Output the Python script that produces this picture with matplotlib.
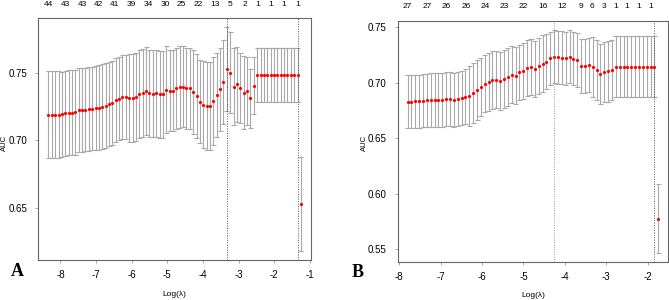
import numpy as np
import matplotlib
matplotlib.use("Agg")
import matplotlib.pyplot as plt

plt.rcParams["font.family"] = ["Liberation Sans", "DejaVu Sans"]

# --- Panel A: cross-validated AUC along the lambda path (left to right = small to large lambda)
loglam_a_range = (-8.336, -1.253)
n_a = 76
auc_a = [0.7191, 0.7191, 0.7191, 0.7191, 0.7194, 0.7199, 0.7206, 0.7206, 0.7208, 0.7223,
         0.7225, 0.7228, 0.7230, 0.7235, 0.7240, 0.7243, 0.7250, 0.7255, 0.7267, 0.7277,
         0.7297, 0.7309, 0.7319, 0.7319, 0.7314, 0.7316, 0.7319, 0.7346, 0.7348, 0.7363,
         0.7348, 0.7346, 0.7348, 0.7341, 0.7341, 0.7375, 0.7368, 0.7368, 0.7385, 0.7395,
         0.7397, 0.7385, 0.7385, 0.7360, 0.7328, 0.7287, 0.7265, 0.7252, 0.7257, 0.7289,
         0.7338, 0.7377, 0.7431, 0.7529, 0.7502, 0.7397, 0.7414, 0.7387, 0.7353, 0.7365,
         0.7311, 0.7404, 0.7485, 0.7485, 0.7485, 0.7485, 0.7485, 0.7485, 0.7485, 0.7485,
         0.7485, 0.7485, 0.7485, 0.7485, 0.7485, 0.6529]
se_a = [0.0320, 0.0320, 0.0320, 0.0320, 0.0315, 0.0315, 0.0315, 0.0315, 0.0315, 0.0310,
        0.0310, 0.0310, 0.0310, 0.0310, 0.0310, 0.0315, 0.0315, 0.0315, 0.0310, 0.0310,
        0.0310, 0.0310, 0.0310, 0.0310, 0.0325, 0.0325, 0.0325, 0.0325, 0.0325, 0.0325,
        0.0320, 0.0320, 0.0320, 0.0320, 0.0320, 0.0320, 0.0300, 0.0300, 0.0300, 0.0300,
        0.0300, 0.0300, 0.0300, 0.0310, 0.0310, 0.0310, 0.0325, 0.0325, 0.0325, 0.0325,
        0.0310, 0.0310, 0.0310, 0.0310, 0.0300, 0.0285, 0.0280, 0.0260, 0.0270, 0.0250,
        0.0220, 0.0210, 0.0198, 0.0198, 0.0198, 0.0198, 0.0198, 0.0198, 0.0198, 0.0198,
        0.0198, 0.0198, 0.0198, 0.0198, 0.0198, 0.0348]
top_pos_a = [-8.336, -7.851, -7.384, -6.926, -6.488, -6.021, -5.536, -5.069, -4.602,
             -4.126, -3.669, -3.230, -2.829, -2.465, -2.101, -1.737, -1.354]
top_lab_a = ["44", "43", "43", "42", "41", "39", "34", "30", "25", "22", "13",
             "5", "2", "1", "1", "1", "1"]

# --- Panel B
loglam_b_range = (-7.799, -1.744)
n_b = 66
auc_b = [0.6831, 0.6831, 0.6834, 0.6837, 0.6840, 0.6846, 0.6849, 0.6849, 0.6849, 0.6846,
         0.6855, 0.6855, 0.6849, 0.6852, 0.6864, 0.6877, 0.6883, 0.6907, 0.6934, 0.6964,
         0.6994, 0.7009, 0.7024, 0.7030, 0.7018, 0.7036, 0.7051, 0.7075, 0.7066, 0.7096,
         0.7108, 0.7136, 0.7142, 0.7127, 0.7154, 0.7175, 0.7193, 0.7223, 0.7238, 0.7232,
         0.7229, 0.7223, 0.7235, 0.7220, 0.7208, 0.7151, 0.7151, 0.7160, 0.7142, 0.7120,
         0.7084, 0.7099, 0.7105, 0.7117, 0.7145, 0.7145, 0.7145, 0.7145, 0.7145, 0.7145,
         0.7145, 0.7145, 0.7145, 0.7145, 0.7145, 0.5776]
se_b = [0.0239, 0.0239, 0.0239, 0.0239, 0.0239, 0.0239, 0.0244, 0.0244, 0.0244, 0.0244,
        0.0244, 0.0244, 0.0244, 0.0244, 0.0244, 0.0250, 0.0268, 0.0270, 0.0270, 0.0260,
        0.0260, 0.0260, 0.0260, 0.0260, 0.0260, 0.0260, 0.0260, 0.0260, 0.0260, 0.0250,
        0.0250, 0.0255, 0.0255, 0.0255, 0.0255, 0.0255, 0.0244, 0.0240, 0.0240, 0.0240,
        0.0240, 0.0240, 0.0240, 0.0240, 0.0244, 0.0244, 0.0244, 0.0244, 0.0270, 0.0270,
        0.0270, 0.0274, 0.0274, 0.0274, 0.0276, 0.0276, 0.0276, 0.0276, 0.0276, 0.0276,
        0.0276, 0.0276, 0.0276, 0.0276, 0.0276, 0.0310]
top_pos_b = [-7.799, -7.332, -6.864, -6.389, -5.922, -5.455, -4.996, -4.537, -4.070,
             -3.611, -3.353, -3.047, -2.773, -2.499, -2.210, -1.936]
top_lab_b = ["27", "27", "26", "26", "24", "23", "22", "16", "12", "9", "6", "3",
             "1", "1", "1", "1"]


def cv_panel(ax, lam_range, n, auc, se, top_pos, top_lab, xticks, yticks,
             min_line_color="#555555"):
    # glmnet lambda path is evenly spaced on the log scale
    x = np.linspace(lam_range[0], lam_range[1], n)
    auc = np.asarray(auc)
    se = np.asarray(se)
    up, lo = auc + se, auc - se

    # error bars the way glmnet draws them (width = 0.01 of the x range)
    barw = 0.01 * (x.max() - x.min())
    bar_kw = dict(color="#a9a9a9", lw=0.8)
    ax.vlines(x, lo, up, **bar_kw)
    ax.hlines(up, x - barw, x + barw, **bar_kw)
    ax.hlines(lo, x - barw, x + barw, **bar_kw)
    ax.plot(x, auc, "o", color="red", ms=2.3, mec="none")

    # lambda.min and lambda.1se
    i_min = int(np.argmax(auc))
    ok = np.where(auc >= auc[i_min] - se[i_min])[0]
    i_1se = ok.max()
    ax.axvline(x[i_min], color=min_line_color, ls=(0, (1, 1.5)), lw=0.7)
    ax.axvline(x[i_1se], color="#555555", ls=(0, (1, 1.5)), lw=0.7)

    # R-like 4% padding
    xr = x.max() - x.min()
    ax.set_xlim(x.min() - 0.04 * xr, x.max() + 0.04 * xr)
    yr = up.max() - lo.min()
    ax.set_ylim(lo.min() - 0.04 * yr, up.max() + 0.04 * yr)

    ax.set_xticks(xticks)
    ax.set_xticklabels([str(t) for t in xticks])
    ax.set_yticks(yticks)
    ax.set_yticklabels(["%.2f" % t for t in yticks])
    ax.tick_params(direction="out", length=2.5, width=0.6, color="#999999",
                   labelsize=7)
    ax.tick_params(axis="x", pad=5)
    ax.tick_params(axis="y", pad=5.5)
    for s in ax.spines.values():
        s.set_color("#666666")
        s.set_linewidth(0.8)

    for p, t in zip(top_pos, top_lab):
        ax.annotate(t, xy=(p, 1.0), xycoords=("data", "axes fraction"),
                    xytext=(0, 14), textcoords="offset pixels",
                    ha="center", va="center", fontsize=6)


fig = plt.figure(figsize=(6.69, 3.0), dpi=100)
ax_a = fig.add_axes([0.0573, 0.1333, 0.4076, 0.8067])
ax_b = fig.add_axes([0.5943, 0.1267, 0.4046, 0.8033])

cv_panel(ax_a, loglam_a_range, n_a, auc_a, se_a, top_pos_a, top_lab_a,
         [-8, -7, -6, -5, -4, -3, -2, -1], [0.65, 0.70, 0.75])
cv_panel(ax_b, loglam_b_range, n_b, auc_b, se_b, top_pos_b, top_lab_b,
         [-8, -7, -6, -5, -4, -3, -2], [0.55, 0.60, 0.65, 0.70, 0.75],
         min_line_color="#999999")

# axis titles, small like the original
fig.text(0.0066, 0.523, "AUC", rotation=90, ha="center", va="center", fontsize=5.5)
fig.text(0.5446, 0.523, "AUC", rotation=90, ha="center", va="center", fontsize=5.5)
fig.text(0.261, 0.018, "Log(\u03bb)", ha="center", va="center", fontsize=6)
fig.text(0.7966, 0.016, "Log(\u03bb)", ha="center", va="center", fontsize=6)

# panel letters
letter_kw = dict(family="Liberation Serif", fontweight="bold", fontsize=13,
                 ha="center", va="center")
fig.text(0.0254, 0.095, "A", **letter_kw)
fig.text(0.5344, 0.092, "B", **letter_kw)

fig.savefig("out.png", dpi=100)
